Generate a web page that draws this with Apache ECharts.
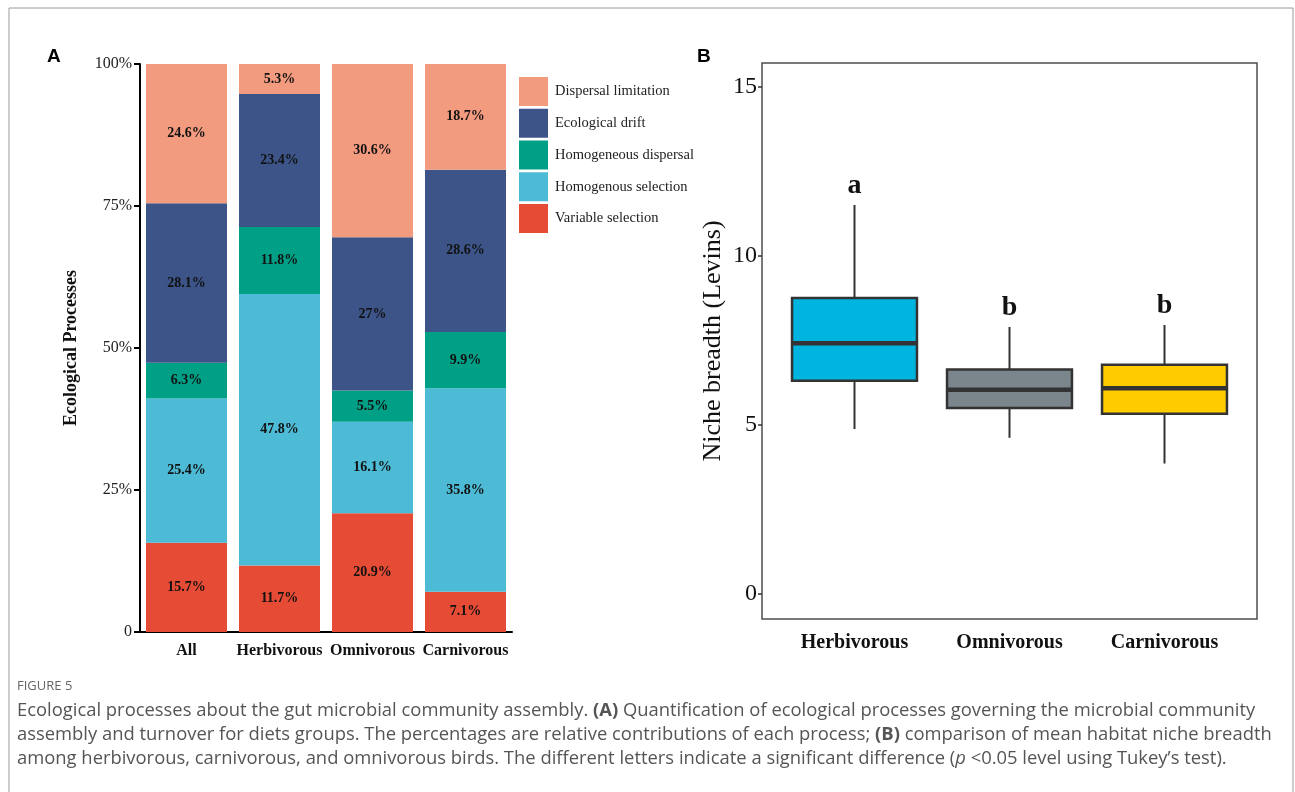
<!DOCTYPE html>
<html>
<head>
<meta charset="utf-8">
<script src="https://cdn.jsdelivr.net/npm/echarts@6/dist/echarts.min.js"></script>
<style>
html,body{margin:0;padding:0;background:#fff;}
#chart{width:1295px;height:792px;}
</style>
</head>
<body>
<div id="chart"></div>
<script>
// ---------- Panel A data ----------
const categoriesA = ['All', 'Herbivorous', 'Omnivorous', 'Carnivorous'];
const variableSelection    = [15.7, 11.7, 20.9, 7.1];
const homogenousSelection  = [25.4, 47.8, 16.1, 35.8];
const homogeneousDispersal = [6.3, 11.8, 5.5, 9.9];
const ecologicalDrift      = [28.1, 23.4, 27, 28.6];
const dispersalLimitation  = [24.6, 5.3, 30.6, 18.7];
const yTicksA = [0, 25, 50, 75, 100];

// ---------- Panel B data ----------
const categoriesB = ['Herbivorous', 'Omnivorous', 'Carnivorous'];
const nicheMin    = [4.88, 4.62, 3.86];
const nicheQ1     = [6.31, 5.50, 5.33];
const nicheMedian = [7.42, 6.04, 6.09];
const nicheQ3     = [8.76, 6.64, 6.78];
const nicheMax    = [11.51, 7.90, 7.96];
const sigLetters  = ['a', 'b', 'b'];
const yTicksB = [0, 5, 10, 15];

// ---------- styles ----------
const serif = '"Liberation Serif", "DejaVu Serif", serif';
const captionFont = '"Open Sans", Lato, sans-serif';
const captionSize = 18.4;
const seriesStyle = [
  {name: 'Variable selection',    data: variableSelection,    color: '#E64B35'},
  {name: 'Homogenous selection',  data: homogenousSelection,  color: '#4DBBD5'},
  {name: 'Homogeneous dispersal', data: homogeneousDispersal, color: '#00A087'},
  {name: 'Ecological drift',      data: ecologicalDrift,      color: '#3C5488'},
  {name: 'Dispersal limitation',  data: dispersalLimitation,  color: '#F39B7F'}
];
const boxColors = ['#00B4E0', '#7A858C', '#FFCC00'];

const chart = echarts.init(document.getElementById('chart'), null, {renderer: 'canvas'});

const barSeries = seriesStyle.map(s => ({
  type: 'bar',
  name: s.name,
  stack: 'total',
  xAxisIndex: 0,
  yAxisIndex: 0,
  barWidth: 81,
  data: s.data,
  itemStyle: {color: s.color},
  label: {
    show: true,
    position: 'inside',
    formatter: p => p.value + '%',
    fontFamily: serif,
    fontWeight: 'bold',
    fontSize: 14,
    color: '#111'
  },
  emphasis: {disabled: true}
}));

const boxData = categoriesB.map((c, i) => [i, nicheMin[i], nicheQ1[i], nicheMedian[i], nicheQ3[i], nicheMax[i]]);

const boxSeries = {
  type: 'custom',
  xAxisIndex: 2,
  yAxisIndex: 2,
  data: boxData,
  renderItem: function (params, api) {
    const x = api.value(0);
    const pMin = api.coord([x, api.value(1)]);
    const pQ1 = api.coord([x, api.value(2)]);
    const pMed = api.coord([x, api.value(3)]);
    const pQ3 = api.coord([x, api.value(4)]);
    const pMax = api.coord([x, api.value(5)]);
    const bw = api.size([1, 0])[0] * 0.806;
    const cx = pMed[0];
    const lineStyle = {stroke: '#333', lineWidth: 2};
    return {
      type: 'group',
      children: [
        {type: 'line', shape: {x1: cx, y1: pMax[1], x2: cx, y2: pQ3[1]}, style: lineStyle},
        {type: 'line', shape: {x1: cx, y1: pQ1[1], x2: cx, y2: pMin[1]}, style: lineStyle},
        {type: 'rect', shape: {x: cx - bw / 2, y: pQ3[1], width: bw, height: pQ1[1] - pQ3[1]},
          style: {fill: boxColors[params.dataIndex], stroke: '#333', lineWidth: 2.5}},
        {type: 'line', shape: {x1: cx - bw / 2, y1: pMed[1], x2: cx + bw / 2, y2: pMed[1]},
          style: {stroke: '#333', lineWidth: 4.5}},
        {type: 'text', style: {
          text: sigLetters[params.dataIndex],
          x: cx, y: pMax[1] - 5,
          align: 'center', verticalAlign: 'bottom',
          fontFamily: serif, fontWeight: 'bold', fontSize: 28, fill: '#111'
        }}
      ]
    };
  }
};

const option = {
  backgroundColor: '#fff',
  animation: false,
  textStyle: {fontFamily: serif},
  legend: {
    data: ['Dispersal limitation', 'Ecological drift', 'Homogeneous dispersal', 'Homogenous selection', 'Variable selection'],
    orient: 'vertical',
    left: 519,
    top: 77,
    padding: 0,
    itemWidth: 29,
    itemHeight: 29,
    itemGap: 2.75,
    icon: 'rect',
    selectedMode: false,
    textStyle: {fontFamily: serif, fontSize: 14.5, color: '#222', padding: [0, 0, 0, 2]}
  },
  grid: [
    {left: 140, top: 64, width: 372, height: 568},
    {left: 762, top: 63, width: 495, height: 556, show: true, borderColor: '#4d4d4d', borderWidth: 1.5, backgroundColor: 'transparent'},
    {left: 777, top: 63, width: 465, height: 556}
  ],
  xAxis: [
    {
      gridIndex: 0, type: 'category', data: categoriesA,
      axisLine: {lineStyle: {color: '#000', width: 2}},
      axisTick: {inside: true, alignWithLabel: true, length: 6, lineStyle: {color: '#000', width: 2}},
      axisLabel: {interval: 0, hideOverlap: false, fontFamily: serif, fontWeight: 'bold', fontSize: 16, color: '#111', margin: 11}
    },
    {gridIndex: 1, type: 'value', show: false, min: 0, max: 1},
    {
      gridIndex: 2, type: 'category', data: categoriesB,
      axisLine: {show: false},
      axisTick: {inside: true, alignWithLabel: true, length: 6, lineStyle: {color: '#333', width: 1.5}},
      axisLabel: {interval: 0, fontFamily: serif, fontWeight: 'bold', fontSize: 20, color: '#111', margin: 14}
    }
  ],
  yAxis: [
    {
      gridIndex: 0, type: 'value', min: yTicksA[0], max: yTicksA[yTicksA.length - 1], interval: 25,
      name: 'Ecological Processes', nameLocation: 'middle', nameGap: 60,
      nameTextStyle: {fontFamily: serif, fontWeight: 'bold', fontSize: 18, color: '#111'},
      axisLine: {show: true, lineStyle: {color: '#000', width: 2}},
      axisTick: {show: true, length: 6, lineStyle: {color: '#000', width: 2}},
      splitLine: {show: false},
      axisLabel: {fontFamily: serif, fontSize: 16, color: '#222', margin: 8,
        formatter: v => v === 0 ? '0' : v + '%'}
    },
    {
      gridIndex: 1, type: 'value', min: -0.74, max: 15.71,
      name: 'Niche breadth (Levins)', nameLocation: 'middle', nameGap: 36,
      nameTextStyle: {fontFamily: serif, fontSize: 26, color: '#111'},
      axisLine: {show: false},
      axisTick: {show: true, length: 4, customValues: yTicksB, lineStyle: {color: '#333', width: 1.5}},
      splitLine: {show: false},
      axisLabel: {fontFamily: serif, fontSize: 24, color: '#111', margin: 5, customValues: yTicksB}
    },
    {gridIndex: 2, type: 'value', min: -0.74, max: 15.71, show: false, splitLine: {show: false}}
  ],
  series: barSeries.concat([boxSeries]),
  graphic: [
    {type: 'rect', silent: true, shape: {x: 9, y: 8, width: 1284, height: 800},
      style: {fill: 'none', stroke: '#9a9a9a', lineWidth: 1}},
    {type: 'text', left: 47, top: 47, style: {text: 'A', font: 'bold 19px "Liberation Sans", Arial, sans-serif', fill: '#000'}},
    {type: 'text', left: 697, top: 47, style: {text: 'B', font: 'bold 19px "Liberation Sans", Arial, sans-serif', fill: '#000'}},
    {type: 'text', left: 17, top: 680, style: {text: 'FIGURE 5', font: '13px ' + captionFont, fill: '#666'}},
    {type: 'text', left: 17, top: 699, style: {
      text: 'Ecological processes about the gut microbial community assembly. {b|(A)} Quantification of ecological processes governing the microbial community\n' +
            'assembly and turnover for diets groups. The percentages are relative contributions of each process; {b|(B)} comparison of mean habitat niche breadth\n' +
            'among herbivorous, carnivorous, and omnivorous birds. The different letters indicate a significant difference ({i|p} <0.05 level using Tukey\u2019s test).',
      fontFamily: captionFont, fontSize: captionSize, lineHeight: 24, fill: '#555',
      rich: {
        b: {fontFamily: captionFont, fontSize: captionSize, fontWeight: 'bold', fill: '#555', lineHeight: 24},
        i: {fontFamily: captionFont, fontSize: captionSize, fontStyle: 'italic', fill: '#555', lineHeight: 24}
      }
    }}
  ]
};

chart.setOption(option);
</script>
</body>
</html>
